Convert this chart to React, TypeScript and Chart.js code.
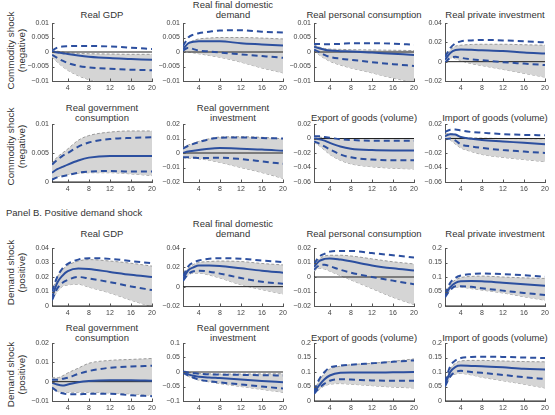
import React, { useEffect, useRef } from "react";
import { Chart, registerables } from "chart.js";

Chart.register(...registerables);

// ---------------- data ----------------
const HORIZON = [1, 2, 3, 4, 6, 8, 12, 16, 20];
const X_TICKS = [4, 8, 12, 16, 20];

const ROW_LABELS = [
  ["Commodity shock", "(negative)"],
  ["Commodity shock", "(negative)"],
  ["Demand shock", "(positive)"],
  ["Demand shock", "(positive)"],
];
const PANEL_B_LABEL = "Panel B. Positive demand shock";

// Row 1 – commodity shock (negative)
const negGdp_title = ["Real GDP"];
const negGdp_yTicks = [-0.01, -0.005, 0, 0.005, 0.01];
const negGdp_med = [0.0001, -0.0002, -0.0004, -0.0007, -0.0012, -0.0016, -0.0021, -0.0024, -0.0027];
const negGdp_hi = [0.0005, 0.0015, 0.0019, 0.002, 0.0021, 0.0021, 0.0019, 0.0015, 0.001];
const negGdp_lo = [-0.001, -0.002, -0.003, -0.0038, -0.0048, -0.0053, -0.0058, -0.0061, -0.0063];
const negGdp_bandHi = [0.0008, 0.0003, 0, -0.0003, -0.0005, -0.0006, -0.0007, -0.0008, -0.0008];
const negGdp_bandLo = [-0.0017, -0.0035, -0.005, -0.0063, -0.0082, -0.0095, -0.011, -0.012, -0.0125];

const negFdd_title = ["Real final domestic", "demand"];
const negFdd_yTicks = [-0.01, -0.005, 0, 0.005, 0.01];
const negFdd_med = [0.001, 0.003, 0.0035, 0.0037, 0.0037, 0.0037, 0.003, 0.0026, 0.0022];
const negFdd_hi = [0.002, 0.005, 0.006, 0.0065, 0.007, 0.0074, 0.0075, 0.007, 0.0067];
const negFdd_lo = [0.0005, 0.0015, 0.001, 0.0005, 0.0002, -0.0002, -0.0008, -0.0014, -0.002];
const negFdd_bandHi = [0.0015, 0.003, 0.004, 0.0045, 0.0048, 0.005, 0.005, 0.0048, 0.0045];
const negFdd_bandLo = [0.0005, 0, -0.0003, -0.0006, -0.0012, -0.0018, -0.0035, -0.0055, -0.0072];

const negCons_title = ["Real personal consumption"];
const negCons_yTicks = [-0.01, -0.005, 0, 0.005, 0.01];
const negCons_med = [0.0018, 0.0013, 0.0008, 0.0005, 0.0003, 0.0002, -0.0002, -0.0006, -0.001];
const negCons_hi = [0.0028, 0.0028, 0.0027, 0.0027, 0.0028, 0.003, 0.003, 0.0029, 0.0025];
const negCons_lo = [0.0008, 0, -0.001, -0.0017, -0.0023, -0.0027, -0.0035, -0.0042, -0.0048];
const negCons_bandHi = [0.0025, 0.0017, 0.0012, 0.001, 0.0009, 0.0008, 0.0007, 0.0006, 0.0005];
const negCons_bandLo = [0.0005, -0.001, -0.0022, -0.0032, -0.0045, -0.0055, -0.0072, -0.009, -0.0105];

const negInv_title = ["Real private investment"];
const negInv_yTicks = [-0.02, 0, 0.02, 0.04];
const negInv_med = [0.002, 0.009, 0.012, 0.0125, 0.0122, 0.0118, 0.011, 0.0095, 0.0085];
const negInv_hi = [0.005, 0.014, 0.019, 0.021, 0.022, 0.0225, 0.022, 0.021, 0.02];
const negInv_lo = [-0.001, 0.004, 0.005, 0.004, 0.0025, 0.0015, -0.0005, -0.002, -0.0035];
const negInv_bandHi = [0.004, 0.012, 0.016, 0.017, 0.0178, 0.018, 0.018, 0.0175, 0.017];
const negInv_bandLo = [0, 0.004, 0.003, 0.001, -0.002, -0.004, -0.008, -0.012, -0.016];

// Row 2 – commodity shock (negative)
const negGovC_title = ["Real government", "consumption"];
const negGovC_yTicks = [0, 0.005, 0.01];
const negGovC_med = [0.0016, 0.0022, 0.0026, 0.003, 0.0037, 0.0042, 0.0045, 0.0045, 0.0045];
const negGovC_hi = [0.003, 0.0038, 0.0045, 0.005, 0.0061, 0.0068, 0.0074, 0.0076, 0.0077];
const negGovC_lo = [0.0004, 0.0008, 0.001, 0.0012, 0.0016, 0.0018, 0.0019, 0.0018, 0.0018];
const negGovC_bandHi = [0.0032, 0.0043, 0.005, 0.0057, 0.0072, 0.008, 0.0086, 0.0088, 0.0088];
const negGovC_bandLo = [0.0006, 0.0009, 0.0011, 0.0013, 0.0015, 0.0016, 0.0016, 0.0014, 0.0011];

const negGovI_title = ["Real government", "investment"];
const negGovI_yTicks = [-0.02, -0.01, 0, 0.01, 0.02];
const negGovI_med = [0, 0.001, 0.0015, 0.002, 0.003, 0.0034, 0.003, 0.0024, 0.0015];
const negGovI_hi = [0.003, 0.005, 0.0063, 0.0075, 0.0095, 0.0105, 0.0107, 0.0103, 0.01];
const negGovI_lo = [-0.003, -0.003, -0.0032, -0.0035, -0.0034, -0.0033, -0.0042, -0.0058, -0.0075];
const negGovI_bandHi = [0.0033, 0.0055, 0.0068, 0.008, 0.0098, 0.011, 0.0112, 0.0108, 0.0098];
const negGovI_bandLo = [-0.0033, -0.0035, -0.0037, -0.004, -0.005, -0.0065, -0.01, -0.0135, -0.0175];

const negExp_title = ["Export of goods (volume)"];
const negExp_yTicks = [-0.06, -0.04, -0.02, 0, 0.02];
const negExp_med = [0, -0.001, -0.003, -0.006, -0.011, -0.014, -0.016, -0.0165, -0.0165];
const negExp_hi = [0.003, 0.003, 0.002, 0.001, -0.001, -0.002, -0.003, -0.003, -0.003];
const negExp_lo = [-0.004, -0.007, -0.011, -0.015, -0.022, -0.026, -0.029, -0.03, -0.03];
const negExp_bandHi = [0.003, 0.002, 0.001, 0.0005, 0, 0, 0, 0, 0];
const negExp_bandLo = [-0.005, -0.01, -0.016, -0.022, -0.03, -0.035, -0.039, -0.041, -0.042];

const negImp_title = ["Import of goods (volume)"];
const negImp_yTicks = [-0.06, -0.04, -0.02, 0, 0.02];
const negImp_med = [0.003, 0.006, 0.0055, 0.002, -0.0005, -0.002, -0.004, -0.006, -0.008];
const negImp_hi = [0.009, 0.012, 0.0125, 0.011, 0.009, 0.008, 0.006, 0.005, 0.0045];
const negImp_lo = [-0.001, 0, -0.003, -0.008, -0.011, -0.013, -0.016, -0.018, -0.02];
const negImp_bandHi = [0.006, 0.007, 0.005, 0.002, 0.001, 0.0005, 0, -0.0003, -0.0005];
const negImp_bandLo = [0, -0.002, -0.008, -0.013, -0.018, -0.022, -0.026, -0.029, -0.032];

// Row 3 – demand shock (positive)
const posGdp_title = ["Real GDP"];
const posGdp_yTicks = [0, 0.01, 0.02, 0.03, 0.04];
const posGdp_med = [0.006, 0.016, 0.021, 0.024, 0.0258, 0.0255, 0.0235, 0.0215, 0.02];
const posGdp_hi = [0.01, 0.02, 0.026, 0.029, 0.032, 0.033, 0.0325, 0.031, 0.0295];
const posGdp_lo = [0.004, 0.012, 0.016, 0.018, 0.02, 0.019, 0.0165, 0.0135, 0.011];
const posGdp_bandHi = [0.01, 0.02, 0.025, 0.028, 0.031, 0.032, 0.031, 0.0295, 0.0275];
const posGdp_bandLo = [0.004, 0.01, 0.0135, 0.0145, 0.015, 0.013, 0.009, 0.004, -0.0005];

const posFdd_title = ["Real final domestic", "demand"];
const posFdd_yTicks = [-0.02, 0, 0.02, 0.04];
const posFdd_med = [0.008, 0.017, 0.02, 0.022, 0.022, 0.0215, 0.019, 0.0165, 0.0145];
const posFdd_hi = [0.011, 0.021, 0.025, 0.027, 0.029, 0.0295, 0.029, 0.027, 0.0255];
const posFdd_lo = [0.006, 0.013, 0.016, 0.0165, 0.0155, 0.0135, 0.009, 0.005, 0.003];
const posFdd_bandHi = [0.01, 0.019, 0.023, 0.025, 0.026, 0.0265, 0.026, 0.024, 0.0225];
const posFdd_bandLo = [0.006, 0.012, 0.014, 0.014, 0.012, 0.009, 0.002, -0.003, -0.0075];

const posCons_title = ["Real personal consumption"];
const posCons_yTicks = [-0.02, -0.01, 0, 0.01, 0.02];
const posCons_med = [0.007, 0.011, 0.0125, 0.0128, 0.012, 0.0108, 0.008, 0.006, 0.0045];
const posCons_hi = [0.009, 0.014, 0.016, 0.0175, 0.018, 0.018, 0.0165, 0.015, 0.0135];
const posCons_lo = [0.005, 0.008, 0.0085, 0.0075, 0.005, 0.003, 0, -0.0025, -0.005];
const posCons_bandHi = [0.008, 0.0125, 0.0145, 0.015, 0.015, 0.0145, 0.0125, 0.0105, 0.009];
const posCons_bandLo = [0.004, 0.006, 0.0055, 0.004, 0.001, -0.002, -0.008, -0.014, -0.019];

const posInv_title = ["Real private investment"];
const posInv_yTicks = [0, 0.05, 0.1, 0.15, 0.2];
const posInv_med = [0.035, 0.065, 0.08, 0.085, 0.086, 0.085, 0.08, 0.075, 0.07];
const posInv_hi = [0.04, 0.08, 0.097, 0.105, 0.11, 0.112, 0.11, 0.106, 0.101];
const posInv_lo = [0.03, 0.055, 0.068, 0.068, 0.066, 0.061, 0.053, 0.045, 0.038];
const posInv_bandHi = [0.04, 0.075, 0.09, 0.098, 0.102, 0.103, 0.1, 0.097, 0.095];
const posInv_bandLo = [0.03, 0.055, 0.065, 0.065, 0.06, 0.055, 0.045, 0.032, 0.02];

// Row 4 – demand shock (positive)
const posGovC_title = ["Real government", "consumption"];
const posGovC_yTicks = [-0.01, 0, 0.01, 0.02];
const posGovC_med = [-0.0005, -0.0015, -0.002, -0.0015, -0.0003, 0.0003, 0.0007, 0.0007, 0.0005];
const posGovC_hi = [0.001, 0.001, 0.0015, 0.002, 0.004, 0.0055, 0.0072, 0.0078, 0.0082];
const posGovC_lo = [-0.003, -0.005, -0.006, -0.0065, -0.0065, -0.0063, -0.0063, -0.007, -0.0075];
const posGovC_bandHi = [0.002, 0.002, 0.003, 0.0045, 0.007, 0.0095, 0.011, 0.0115, 0.012];
const posGovC_bandLo = [-0.0035, -0.005, -0.0055, -0.0055, -0.0055, -0.0055, -0.0058, -0.0063, -0.007];

const posGovI_title = ["Real government", "investment"];
const posGovI_yTicks = [-0.1, -0.05, 0, 0.05, 0.1];
const posGovI_med = [0, -0.008, -0.013, -0.016, -0.019, -0.021, -0.026, -0.031, -0.035];
const posGovI_hi = [0.002, -0.002, -0.004, -0.006, -0.008, -0.009, -0.01, -0.011, -0.012];
const posGovI_lo = [-0.002, -0.012, -0.02, -0.026, -0.032, -0.036, -0.043, -0.05, -0.057];
const posGovI_bandHi = [0.002, -0.002, -0.004, -0.005, -0.006, -0.007, -0.007, -0.0065, -0.006];
const posGovI_bandLo = [-0.003, -0.015, -0.022, -0.028, -0.034, -0.04, -0.05, -0.06, -0.07];

const posExp_title = ["Export of goods (volume)"];
const posExp_yTicks = [0, 0.05, 0.1, 0.15, 0.2];
const posExp_med = [0.03, 0.055, 0.075, 0.088, 0.097, 0.098, 0.098, 0.099, 0.1];
const posExp_hi = [0.035, 0.075, 0.1, 0.115, 0.122, 0.125, 0.13, 0.135, 0.14];
const posExp_lo = [0.025, 0.045, 0.06, 0.07, 0.075, 0.074, 0.071, 0.07, 0.07];
const posExp_bandHi = [0.035, 0.07, 0.095, 0.11, 0.12, 0.125, 0.13, 0.137, 0.145];
const posExp_bandLo = [0.025, 0.04, 0.052, 0.058, 0.06, 0.058, 0.053, 0.048, 0.045];

const posImp_title = ["Import of goods (volume)"];
const posImp_yTicks = [0, 0.05, 0.1, 0.15, 0.2];
const posImp_med = [0.055, 0.1, 0.118, 0.122, 0.121, 0.12, 0.116, 0.111, 0.109];
const posImp_hi = [0.065, 0.12, 0.14, 0.148, 0.152, 0.153, 0.152, 0.15, 0.148];
const posImp_lo = [0.05, 0.085, 0.1, 0.104, 0.1, 0.097, 0.09, 0.082, 0.076];
const posImp_bandHi = [0.06, 0.11, 0.13, 0.138, 0.14, 0.14, 0.138, 0.136, 0.135];
const posImp_bandLo = [0.05, 0.08, 0.093, 0.095, 0.09, 0.082, 0.07, 0.058, 0.045];

// ---------------- panel table (built from the arrays) ----------------
type Panel = {
  title: string[];
  yTicks: number[];
  med: number[];
  hi: number[];
  lo: number[];
  bandHi: number[];
  bandLo: number[];
};

const mk = (title: string[], yTicks: number[], med: number[], hi: number[], lo: number[], bandHi: number[], bandLo: number[]): Panel =>
  ({ title, yTicks, med, hi, lo, bandHi, bandLo });

const PANELS: Panel[][] = [
  [
    mk(negGdp_title, negGdp_yTicks, negGdp_med, negGdp_hi, negGdp_lo, negGdp_bandHi, negGdp_bandLo),
    mk(negFdd_title, negFdd_yTicks, negFdd_med, negFdd_hi, negFdd_lo, negFdd_bandHi, negFdd_bandLo),
    mk(negCons_title, negCons_yTicks, negCons_med, negCons_hi, negCons_lo, negCons_bandHi, negCons_bandLo),
    mk(negInv_title, negInv_yTicks, negInv_med, negInv_hi, negInv_lo, negInv_bandHi, negInv_bandLo),
  ],
  [
    mk(negGovC_title, negGovC_yTicks, negGovC_med, negGovC_hi, negGovC_lo, negGovC_bandHi, negGovC_bandLo),
    mk(negGovI_title, negGovI_yTicks, negGovI_med, negGovI_hi, negGovI_lo, negGovI_bandHi, negGovI_bandLo),
    mk(negExp_title, negExp_yTicks, negExp_med, negExp_hi, negExp_lo, negExp_bandHi, negExp_bandLo),
    mk(negImp_title, negImp_yTicks, negImp_med, negImp_hi, negImp_lo, negImp_bandHi, negImp_bandLo),
  ],
  [
    mk(posGdp_title, posGdp_yTicks, posGdp_med, posGdp_hi, posGdp_lo, posGdp_bandHi, posGdp_bandLo),
    mk(posFdd_title, posFdd_yTicks, posFdd_med, posFdd_hi, posFdd_lo, posFdd_bandHi, posFdd_bandLo),
    mk(posCons_title, posCons_yTicks, posCons_med, posCons_hi, posCons_lo, posCons_bandHi, posCons_bandLo),
    mk(posInv_title, posInv_yTicks, posInv_med, posInv_hi, posInv_lo, posInv_bandHi, posInv_bandLo),
  ],
  [
    mk(posGovC_title, posGovC_yTicks, posGovC_med, posGovC_hi, posGovC_lo, posGovC_bandHi, posGovC_bandLo),
    mk(posGovI_title, posGovI_yTicks, posGovI_med, posGovI_hi, posGovI_lo, posGovI_bandHi, posGovI_bandLo),
    mk(posExp_title, posExp_yTicks, posExp_med, posExp_hi, posExp_lo, posExp_bandHi, posExp_bandLo),
    mk(posImp_title, posImp_yTicks, posImp_med, posImp_hi, posImp_lo, posImp_bandHi, posImp_bandLo),
  ],
];

// ---------------- layout & style ----------------
const FONT = '"Liberation Sans", Arial, Helvetica, sans-serif';
const BLUE = "#2c4f9f";
const BAND = "#d5d5d5";
const BAND_EDGE = "#9a9a9a";
const AXIS = "#555555";
const TEXT = "#333333";

const COL_X = [52, 183, 314, 445];
const ROW_Y = [23, 124, 248, 343];
const PW = 100;
const PH = 58;
const TITLE_Y = [14.5, 117.5, 234, 337.5];
const ROW_LABEL_Y = [50, 146, 272, 374];

const CL = 42;
const CT = 6;
const CR = 8;
const CB = 14;

const fmt = (v: number) => (v === 0 ? "0" : String(v).replace("-", "\u2212"));

const tickMarks = {
  id: "tickMarks",
  afterDraw(chart: any) {
    const ctx = chart.ctx;
    const xs = chart.scales.x;
    const ys = chart.scales.y;
    const { left, bottom } = chart.chartArea;
    ctx.save();
    ctx.strokeStyle = AXIS;
    ctx.lineWidth = 1;
    ctx.beginPath();
    xs.ticks.forEach((t: any) => {
      const px = Math.round(xs.getPixelForValue(t.value)) + 0.5;
      ctx.moveTo(px, bottom);
      ctx.lineTo(px, bottom - 2.5);
    });
    ys.ticks.forEach((t: any) => {
      const py = Math.round(ys.getPixelForValue(t.value)) + 0.5;
      ctx.moveTo(left, py);
      ctx.lineTo(left + 2.5, py);
    });
    ctx.stroke();
    ctx.restore();
  },
};

function PanelChart({ panel, left, top }: { panel: Panel; left: number; top: number }) {
  const ref = useRef<HTMLCanvasElement>(null);
  useEffect(() => {
    const pts = (arr: number[]) => HORIZON.map((x, i) => ({ x, y: arr[i] }));
    const zero = [{ x: 1, y: 0 }, { x: 20, y: 0 }];
    const yMin = panel.yTicks[0];
    const yMax = panel.yTicks[panel.yTicks.length - 1];
    const tickFont = { family: FONT, size: 7 };
    const chart = new Chart(ref.current!, {
      type: "line",
      data: {
        datasets: [
          { data: pts(panel.med), borderColor: BLUE, borderWidth: 2 },
          { data: pts(panel.hi), borderColor: BLUE, borderWidth: 2, borderDash: [6, 4] },
          { data: pts(panel.lo), borderColor: BLUE, borderWidth: 2, borderDash: [6, 4] },
          { data: zero, borderColor: "#222", borderWidth: 1, cubicInterpolationMode: "default", tension: 0 },
          {
            data: pts(panel.bandHi),
            borderColor: BAND_EDGE,
            borderWidth: 1,
            borderDash: [3, 2],
            fill: "+1",
            backgroundColor: BAND,
          },
          { data: pts(panel.bandLo), borderColor: BAND_EDGE, borderWidth: 1, borderDash: [3, 2] },
        ],
      } as any,
      options: {
        responsive: false,
        animation: false,
        events: [],
        layout: { padding: { top: CT, right: CR, left: 0, bottom: 0 } },
        elements: {
          point: { radius: 0 },
          line: { cubicInterpolationMode: "monotone", fill: false },
        },
        plugins: { legend: { display: false }, tooltip: { enabled: false }, title: { display: false } },
        scales: {
          x: {
            type: "linear",
            min: 1,
            max: 20,
            z: 1,
            afterBuildTicks: (s: any) => {
              s.ticks = X_TICKS.map((v) => ({ value: v }));
            },
            afterFit: (s: any) => {
              s.height = CB;
              s.paddingLeft = 0;
              s.paddingRight = 0;
            },
            grid: { display: false, drawTicks: false },
            border: { display: true, color: AXIS, width: 1 },
            ticks: {
              font: tickFont,
              color: "#444",
              padding: 3,
              maxRotation: 0,
              autoSkip: false,
              callback: (v: any) => fmt(Number(v)),
            },
          },
          y: {
            type: "linear",
            min: yMin,
            max: yMax,
            z: 1,
            afterBuildTicks: (s: any) => {
              s.ticks = panel.yTicks.map((v) => ({ value: v }));
            },
            afterFit: (s: any) => {
              s.width = CL;
              s.paddingTop = 0;
              s.paddingBottom = 0;
            },
            grid: { display: false, drawTicks: false },
            border: { display: true, color: AXIS, width: 1 },
            ticks: {
              font: tickFont,
              color: "#444",
              padding: 3,
              autoSkip: false,
              callback: (v: any) => fmt(Number(v)),
            },
          },
        },
      } as any,
      plugins: [tickMarks],
    });
    return () => chart.destroy();
  }, [panel]);
  const w = CL + PW + CR;
  const h = CT + PH + CB;
  return (
    <canvas
      ref={ref}
      width={w}
      height={h}
      style={{ position: "absolute", left: left - CL, top: top - CT, width: w, height: h }}
    />
  );
}

export default function App() {
  return (
    <div
      style={{
        position: "fixed",
        left: 0,
        top: 0,
        width: 555,
        height: 415,
        background: "#fff",
        overflow: "hidden",
        fontFamily: FONT,
        color: TEXT,
      }}
    >
      {PANELS.map((row, r) =>
        row.map((p, c) => (
          <div
            key={`t${r}-${c}`}
            style={{
              position: "absolute",
              left: COL_X[c] - 20,
              width: PW + 40,
              top: TITLE_Y[r] - 5 - (p.title.length - 1) * 10,
              fontSize: 9.5,
              lineHeight: "10px",
              textAlign: "center",
              whiteSpace: "nowrap",
            }}
          >
            {p.title.map((t, i) => (
              <div key={i}>{t}</div>
            ))}
          </div>
        ))
      )}
      {ROW_LABELS.map((lab, r) => (
        <div
          key={`rl${r}`}
          style={{
            position: "absolute",
            left: 15.5 - 60,
            top: ROW_LABEL_Y[r] - 10.5,
            width: 120,
            height: 21,
            transform: "rotate(-90deg)",
            textAlign: "center",
            fontSize: 9.8,
            lineHeight: "10.5px",
            whiteSpace: "nowrap",
          }}
        >
          <div>{lab[0]}</div>
          <div>{lab[1]}</div>
        </div>
      ))}
      <div
        style={{
          position: "absolute",
          left: 6,
          top: 207,
          fontSize: 9.5,
          lineHeight: "12px",
          whiteSpace: "nowrap",
        }}
      >
        {PANEL_B_LABEL}
      </div>
      {PANELS.map((row, r) =>
        row.map((p, c) => <PanelChart key={`c${r}-${c}`} panel={p} left={COL_X[c]} top={ROW_Y[r]} />)
      )}
    </div>
  );
}
